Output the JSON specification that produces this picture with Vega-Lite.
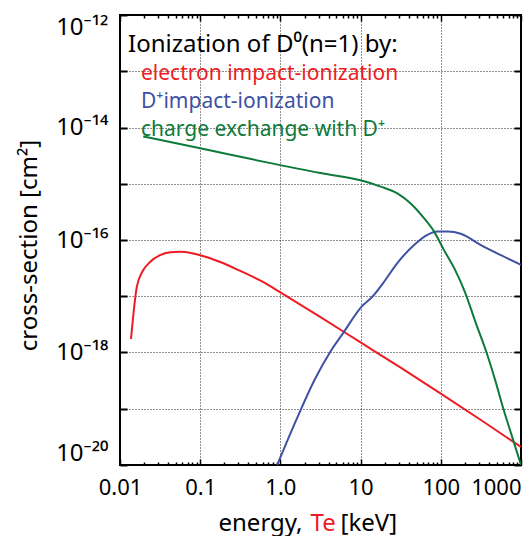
{
  "$schema": "https://vega.github.io/schema/vega-lite/v6.json",
  "width": 401,
  "height": 450,
  "autosize": {"type": "none"},
  "padding": {"left": 120, "top": 15, "right": 7, "bottom": 71},
  "background": "white",
  "config": {
    "view": {"stroke": "black", "strokeWidth": 2},
    "font": "Noto Sans"
  },
  "data": {
    "values": [
      {"process": "electron impact-ionization", "energy": 0.01372, "xs": 1.74e-18},
      {"process": "electron impact-ionization", "energy": 0.01622, "xs": 1.48e-17},
      {"process": "electron impact-ionization", "energy": 0.01905, "xs": 2.75e-17},
      {"process": "electron impact-ionization", "energy": 0.02371, "xs": 4.07e-17},
      {"process": "electron impact-ionization", "energy": 0.03162, "xs": 5.37e-17},
      {"process": "electron impact-ionization", "energy": 0.04217, "xs": 6.03e-17},
      {"process": "electron impact-ionization", "energy": 0.05623, "xs": 6.17e-17},
      {"process": "electron impact-ionization", "energy": 0.0787, "xs": 5.82e-17},
      {"process": "electron impact-ionization", "energy": 0.1, "xs": 5.37e-17},
      {"process": "electron impact-ionization", "energy": 0.1778, "xs": 4.07e-17},
      {"process": "electron impact-ionization", "energy": 0.3162, "xs": 2.82e-17},
      {"process": "electron impact-ionization", "energy": 0.631, "xs": 1.74e-17},
      {"process": "electron impact-ionization", "energy": 1, "xs": 1.17e-17},
      {"process": "electron impact-ionization", "energy": 3.162, "xs": 4.27e-18},
      {"process": "electron impact-ionization", "energy": 10, "xs": 1.51e-18},
      {"process": "electron impact-ionization", "energy": 31.62, "xs": 5.37e-19},
      {"process": "electron impact-ionization", "energy": 100, "xs": 1.86e-19},
      {"process": "electron impact-ionization", "energy": 316.2, "xs": 6.31e-20},
      {"process": "electron impact-ionization", "energy": 1000, "xs": 2.09e-20},
      {"process": "D⁺impact-ionization", "energy": 0.912, "xs": 1e-20},
      {"process": "D⁺impact-ionization", "energy": 1.644, "xs": 7.24e-20},
      {"process": "D⁺impact-ionization", "energy": 2.661, "xs": 3.24e-19},
      {"process": "D⁺impact-ionization", "energy": 4.305, "xs": 1.1e-18},
      {"process": "D⁺impact-ionization", "energy": 6.026, "xs": 2.19e-18},
      {"process": "D⁺impact-ionization", "energy": 10.23, "xs": 6.46e-18},
      {"process": "D⁺impact-ionization", "energy": 14.2, "xs": 1.0e-17},
      {"process": "D⁺impact-ionization", "energy": 19.0, "xs": 1.7e-17},
      {"process": "D⁺impact-ionization", "energy": 28.7, "xs": 3.89e-17},
      {"process": "D⁺impact-ionization", "energy": 46.45, "xs": 8.13e-17},
      {"process": "D⁺impact-ionization", "energy": 68.08, "xs": 1.23e-16},
      {"process": "D⁺impact-ionization", "energy": 90.78, "xs": 1.41e-16},
      {"process": "D⁺impact-ionization", "energy": 121.1, "xs": 1.41e-16},
      {"process": "D⁺impact-ionization", "energy": 177.8, "xs": 1.29e-16},
      {"process": "D⁺impact-ionization", "energy": 316.2, "xs": 8.13e-17},
      {"process": "D⁺impact-ionization", "energy": 562.3, "xs": 5.37e-17},
      {"process": "D⁺impact-ionization", "energy": 1000, "xs": 3.63e-17},
      {"process": "charge exchange with D⁺", "energy": 0.0195, "xs": 6.92e-15},
      {"process": "charge exchange with D⁺", "energy": 0.1, "xs": 4.27e-15},
      {"process": "charge exchange with D⁺", "energy": 0.631, "xs": 2.45e-15},
      {"process": "charge exchange with D⁺", "energy": 3.162, "xs": 1.55e-15},
      {"process": "charge exchange with D⁺", "energy": 10, "xs": 1.15e-15},
      {"process": "charge exchange with D⁺", "energy": 17.78, "xs": 8.91e-16},
      {"process": "charge exchange with D⁺", "energy": 28.7, "xs": 6.76e-16},
      {"process": "charge exchange with D⁺", "energy": 42.17, "xs": 4.47e-16},
      {"process": "charge exchange with D⁺", "energy": 61.66, "xs": 2.45e-16},
      {"process": "charge exchange with D⁺", "energy": 82.6, "xs": 1.41e-16},
      {"process": "charge exchange with D⁺", "energy": 109.6, "xs": 6.61e-17},
      {"process": "charge exchange with D⁺", "energy": 146.9, "xs": 3.16e-17},
      {"process": "charge exchange with D⁺", "energy": 199.5, "xs": 1.2e-17},
      {"process": "charge exchange with D⁺", "energy": 269.2, "xs": 3.55e-18},
      {"process": "charge exchange with D⁺", "energy": 371.5, "xs": 1e-18},
      {"process": "charge exchange with D⁺", "energy": 478.6, "xs": 3.16e-19},
      {"process": "charge exchange with D⁺", "energy": 602.6, "xs": 1e-19},
      {"process": "charge exchange with D⁺", "energy": 776.2, "xs": 3.16e-20},
      {"process": "charge exchange with D⁺", "energy": 1000, "xs": 1e-20}
    ]
  },
  "layer": [
    {
      "mark": {"type": "line", "strokeWidth": 2, "clip": true, "interpolate": "monotone"},
      "encoding": {
        "x": {
          "field": "energy", "type": "quantitative",
          "scale": {"type": "log", "domain": [0.01, 1000], "nice": false},
          "axis": {
            "orient": "bottom",
            "values": [0.01,0.02,0.03,0.04,0.05,0.06,0.07,0.08,0.09,0.1,0.2,0.3,0.4,0.5,0.6,0.7,0.8,0.9,1,2,3,4,5,6,7,8,9,10,20,30,40,50,60,70,80,90,100,200,300,400,500,600,700,800,900,1000],
            "domain": false,
            "grid": true,
            "gridColor": "#222222",
            "gridDash": [1, 2],
            "gridWidth": 1,
            "gridOpacity": {"condition": {"test": "datum.value == 0.1 || datum.value == 1 || datum.value == 10 || datum.value == 100", "value": 1}, "value": 0},
            "ticks": true,
            "tickColor": "black",
            "tickWidth": 1.5,
            "tickSize": {"condition": {"test": "datum.value == 0.01 || datum.value == 0.1 || datum.value == 1 || datum.value == 10 || datum.value == 100 || datum.value == 1000", "value": -6}, "value": -3},
            "labelExpr": "datum.value == 0.01 ? '0.01' : datum.value == 0.1 ? '0.1' : datum.value == 1 ? '1.0' : datum.value == 10 ? '10' : datum.value == 100 ? '100' : datum.value == 1000 ? '1000' : ''",
            "labelFont": "Noto Sans",
            "labelFontSize": 22,
            "labelColor": "black",
            "labelPadding": 18,
            "labelOverlap": false,
            "labelBound": false,
            "labelFlush": false,
            "labelAlign": {"condition": {"test": "datum.value > 500", "value": "right"}, "value": "center"},
            "title": "energy,",
            "titleFont": "Noto Sans",
            "titleFontSize": 24,
            "titleFontWeight": "normal",
            "titleColor": "black",
            "titleAlign": "left",
            "titleBaseline": "alphabetic",
            "titleX": 98,
            "titleY": 65
          }
        },
        "y": {
          "field": "xs", "type": "quantitative",
          "scale": {"type": "log", "domain": [1e-20, 1e-12], "nice": false},
          "axis": {
            "orient": "left",
            "values": [1e-20,1e-19,1e-18,1e-17,1e-16,1e-15,1e-14,1e-13,1e-12],
            "domain": false,
            "grid": true,
            "gridColor": "#222222",
            "gridDash": [1, 2],
            "gridWidth": 1,
            "gridOpacity": {"condition": {"test": "datum.value > 2e-20 && datum.value < 5e-13", "value": 1}, "value": 0},
            "ticks": true,
            "tickColor": "black",
            "tickWidth": 2,
            "tickSize": -7,
            "labelExpr": "round(log(datum.value)/LN10) == -12 ? '10⁻¹²' : round(log(datum.value)/LN10) == -14 ? '10⁻¹⁴' : round(log(datum.value)/LN10) == -16 ? '10⁻¹⁶' : round(log(datum.value)/LN10) == -18 ? '10⁻¹⁸' : round(log(datum.value)/LN10) == -20 ? '10⁻²⁰' : ''",
            "labelFont": "Noto Sans",
            "labelFontSize": 24,
            "labelColor": "black",
            "labelPadding": 19,
            "labelOverlap": false,
            "labelFlush": true,
            "title": "cross-section [cm²]",
            "titleFont": "Noto Sans",
            "titleFontSize": 24,
            "titleFontWeight": "normal",
            "titleColor": "black",
            "titleAngle": -90,
            "titleAlign": "center",
            "titleBaseline": "middle",
            "titleX": -91,
            "titleY": 230
          }
        },
        "color": {
          "field": "process", "type": "nominal",
          "scale": {
            "domain": ["electron impact-ionization", "D⁺impact-ionization", "charge exchange with D⁺"],
            "range": ["#ED1C24", "#3F51A3", "#0E7A3A"]
          },
          "legend": {
            "orient": "none",
            "legendX": 8,
            "legendY": 18,
            "title": "Ionization of D⁰(n=1) by:",
            "titleFont": "Noto Sans",
            "titleFontSize": 24,
            "titleFontWeight": "normal",
            "titleColor": "black",
            "titleLimit": 400,
            "titlePadding": 6,
            "labelFont": "Noto Sans",
            "labelFontSize": 21,
            "labelLimit": 400,
            "labelOffset": -8,
            "rowPadding": 6,
            "symbolSize": 0,
            "symbolOpacity": 0,
            "symbolStrokeWidth": 0,
            "encode": {"labels": {"update": {"fill": {"scale": "color", "field": "value"}}}}
          }
        }
      }
    },
    {
      "mark": {"type": "line", "opacity": 0},
      "encoding": {
        "x": {
          "field": "energy", "type": "quantitative",
          "scale": {"type": "log", "domain": [0.01, 1000], "nice": false},
          "axis": {
            "orient": "top",
            "values": [0.01,0.02,0.03,0.04,0.05,0.06,0.07,0.08,0.09,0.1,0.2,0.3,0.4,0.5,0.6,0.7,0.8,0.9,1,2,3,4,5,6,7,8,9,10,20,30,40,50,60,70,80,90,100,200,300,400,500,600,700,800,900,1000],
            "domain": false,
            "grid": false,
            "labels": false,
            "ticks": true,
            "tickColor": "black",
            "tickWidth": 1.5,
            "tickSize": {"condition": {"test": "datum.value == 0.01 || datum.value == 0.1 || datum.value == 1 || datum.value == 10 || datum.value == 100 || datum.value == 1000", "value": -6}, "value": -3},
            "title": "Te",
            "titleFont": "Noto Sans",
            "titleFontSize": 24,
            "titleFontWeight": "normal",
            "titleColor": "#ED1C24",
            "titleAlign": "left",
            "titleBaseline": "alphabetic",
            "titleAngle": 0,
            "titleX": 190,
            "titleY": 515
          }
        },
        "y": {
          "field": "xs", "type": "quantitative",
          "scale": {"type": "log", "domain": [1e-20, 1e-12], "nice": false},
          "axis": {
            "orient": "right",
            "values": [1e-20,1e-19,1e-18,1e-17,1e-16,1e-15,1e-14,1e-13,1e-12],
            "domain": false,
            "grid": false,
            "labels": false,
            "ticks": true,
            "tickColor": "black",
            "tickWidth": 2,
            "tickSize": -7,
            "title": "[keV]",
            "titleFont": "Noto Sans",
            "titleFontSize": 24,
            "titleFontWeight": "normal",
            "titleColor": "black",
            "titleAlign": "left",
            "titleBaseline": "alphabetic",
            "titleAngle": 0,
            "titleX": -181,
            "titleY": 515
          }
        }
      }
    }
  ],
  "resolve": {"axis": {"x": "independent", "y": "independent"}}
}
